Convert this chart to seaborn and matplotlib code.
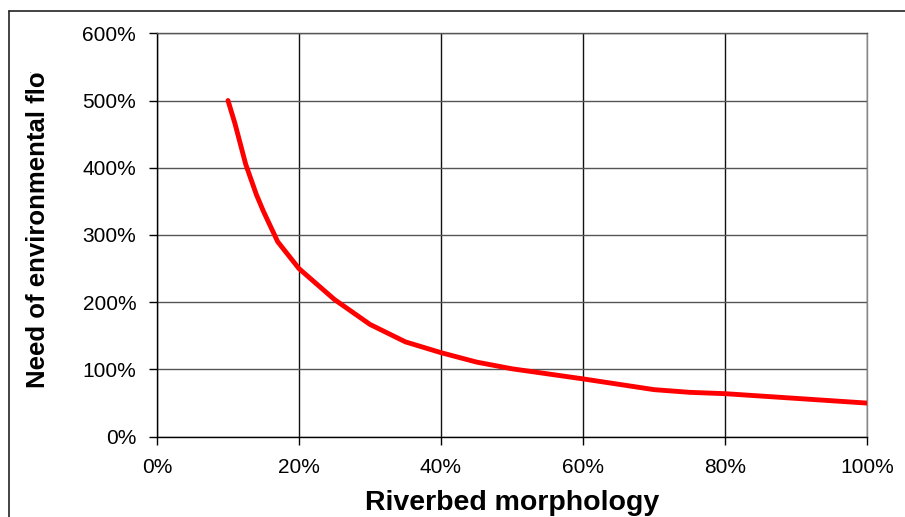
import matplotlib
matplotlib.use("Agg")
import matplotlib.pyplot as plt
from matplotlib.lines import Line2D
from matplotlib.transforms import Bbox, TransformedBbox
import seaborn as sns
import pandas as pd

# Environmental-flow requirement as a function of riverbed morphology (both in %)
morphology_pct = [10, 11, 12.5, 14, 15, 17, 20, 25, 30, 35, 40, 45, 50, 60, 70, 75, 80, 90, 100]
need_pct = [500, 465, 405, 360, 335, 290, 250, 204, 167, 141, 125, 111, 101, 86, 70, 66, 64, 57, 50]

x_ticks = [0, 20, 40, 60, 80, 100]
x_tick_labels = ["0%", "20%", "40%", "60%", "80%", "100%"]
y_ticks = [0, 100, 200, 300, 400, 500, 600]
y_tick_labels = ["0%", "100%", "200%", "300%", "400%", "500%", "600%"]

x_title = "Riverbed morphology"
y_title = "Need of environmental flow"

sns.set_style("white")
plt.rcParams["font.family"] = ["Liberation Sans", "DejaVu Sans"]

W, H = 905, 517
fig = plt.figure(figsize=(W / 100, H / 100), dpi=100)
ax = fig.add_axes([157 / W, 1 - 436.7 / H, (867 - 157) / W, (436.7 - 33.3) / H])

df = pd.DataFrame({"morphology": morphology_pct, "need": need_pct})
sns.lineplot(data=df, x="morphology", y="need", ax=ax, color="#ff0000",
             linewidth=3.5, sort=True, zorder=5)

ax.set_xlim(0, 100)
ax.set_ylim(0, 600)
ax.set_xticks(x_ticks)
ax.set_xticklabels(x_tick_labels)
ax.set_yticks(y_ticks)
ax.set_yticklabels(y_tick_labels)

# grid: dark vertical lines, slightly lighter horizontal lines
ax.xaxis.grid(True, color="#111111", linewidth=1.0)
ax.yaxis.grid(True, color="#555555", linewidth=1.0)
ax.set_axisbelow(True)

for side in ("left", "bottom"):
    ax.spines[side].set_color("#000000")
    ax.spines[side].set_linewidth(1.0)
ax.spines["top"].set_color("#555555")
ax.spines["right"].set_color("#888888")
for side in ("top", "right"):
    ax.spines[side].set_linewidth(1.0)
    ax.spines[side].set_visible(True)

ax.tick_params(axis="both", which="major", direction="out", length=6, width=1,
               color="#000000", labelsize=15, labelcolor="#000000", pad=9,
               bottom=True, left=True, top=False, right=False)

ax.set_xlabel(x_title, fontsize=20.5, fontweight="bold", color="#000000")
ax.xaxis.set_label_coords(0.5, -0.132)
ax.xaxis.label.set_verticalalignment("top")
ax.set_ylabel("")

# rotated y title, clipped at the top like a too-small text box
ylab = fig.text(38 / W, 1 - 388 / H, y_title, rotation=90, ha="center", va="bottom",
                fontsize=18.5, fontweight="bold", color="#000000")
ylab.set_clip_box(TransformedBbox(Bbox([[0, 0], [1, 1 - 72 / H]]), fig.transFigure))
ylab.set_clip_on(True)

# outer chart frame (left and top edges visible)
fig.add_artist(Line2D([8.5 / W, 8.5 / W], [0, 1 - 11 / H], transform=fig.transFigure,
                      color="#222222", linewidth=1.2))
fig.add_artist(Line2D([8.5 / W, 1], [1 - 11 / H, 1 - 11 / H], transform=fig.transFigure,
                      color="#222222", linewidth=1.2))

fig.savefig("out.png", dpi=100, facecolor="white")
